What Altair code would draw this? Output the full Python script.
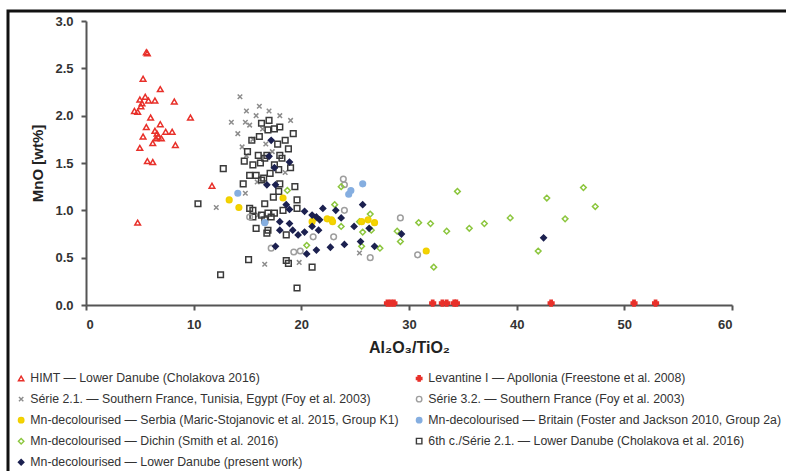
import altair as alt
import pandas as pd

# ---------------- data ----------------
himt_x = [5.7, 5.6, 5.3, 6.9, 5.0, 5.5, 5.8, 6.4, 8.2, 5.2, 5.1, 4.5, 4.8, 9.7, 6.0, 6.9,
          5.6, 6.4, 7.4, 8.0, 6.6, 5.3, 6.7, 7.0, 6.5, 8.3, 6.2, 5.0, 5.7, 6.2, 4.8, 11.7]
himt_y = [2.66, 2.67, 2.39, 2.28, 2.17, 2.20, 2.16, 2.16, 2.15, 2.13, 2.10, 2.05, 2.04, 1.98, 1.98, 1.91,
          1.88, 1.84, 1.83, 1.83, 1.81, 1.78, 1.78, 1.76, 1.76, 1.69, 1.71, 1.66, 1.52, 1.51, 0.87, 1.26]

lev_x = [28.0, 28.3, 28.6, 32.2, 33.1, 33.5, 34.2, 34.4, 43.2, 50.9, 52.9]
lev_y = [0.02, 0.02, 0.02, 0.02, 0.02, 0.02, 0.02, 0.02, 0.02, 0.02, 0.02]

s21_x = [14.3, 16.1, 14.9, 15.8, 18.0, 13.5, 14.8, 15.2, 14.1, 16.4, 14.5, 14.9, 12.1, 14.8, 16.6,
         17.0, 15.5, 19.0, 16.7, 17.3, 18.5, 15.9, 25.4, 19.8, 16.0]
s21_y = [2.20, 2.10, 2.05, 2.00, 2.00, 1.93, 1.93, 1.90, 1.81, 1.86, 1.67, 1.58, 1.03, 1.18, 0.43,
         2.05, 1.75, 1.95, 1.70, 1.62, 1.40, 1.30, 0.55, 0.45, 0.95]

s32_x = [23.9, 24.0, 24.0, 23.0, 21.1, 19.9, 26.4, 29.2, 30.8, 17.2, 19.3, 15.2]
s32_y = [1.33, 1.27, 1.00, 0.72, 0.72, 0.57, 0.50, 0.92, 0.53, 0.60, 0.56, 0.93]

serbia_x = [13.3, 14.2, 18.3, 21.0, 21.3, 22.4, 22.8, 22.9, 25.6, 26.2, 26.8, 31.6]
serbia_y = [1.11, 1.03, 1.13, 0.88, 0.92, 0.91, 0.90, 0.88, 0.88, 0.90, 0.87, 0.57]

britain_x = [14.1, 16.6, 24.4, 24.6, 25.7]
britain_y = [1.18, 0.87, 1.17, 1.21, 1.28]

dichin_x = [18.7, 20.5, 23.1, 23.7, 23.7, 25.4, 25.6, 25.7, 26.4, 26.5, 27.3, 28.9, 29.2,
            30.9, 32.0, 32.3, 33.5, 34.5, 35.6, 37.0, 39.4, 42.0, 42.8, 44.5, 46.2, 47.3]
dichin_y = [1.21, 0.63, 1.06, 1.25, 0.83, 0.88, 0.62, 0.77, 0.96, 0.79, 0.60, 0.78, 0.67,
            0.87, 0.86, 0.40, 0.78, 1.20, 0.81, 0.86, 0.92, 0.57, 1.13, 0.91, 1.24, 1.04]

present_x = [16.8, 17.6, 17.2, 17.0, 17.5, 18.9, 18.6, 18.9, 20.3, 21.0, 21.4, 22.0, 23.2, 23.7,
             25.7, 18.0, 18.0, 18.9, 19.2, 19.7, 20.3, 21.0, 21.6, 21.7, 24.9, 26.3, 25.5, 26.8,
             24.0, 22.7, 21.4, 20.5, 17.6, 29.3, 42.5]
present_y = [1.27, 1.27, 1.74, 1.57, 1.45, 1.51, 1.06, 1.01, 0.99, 0.95, 0.93, 1.02, 1.00, 0.92,
             1.06, 0.88, 0.79, 0.86, 0.79, 0.74, 0.77, 0.83, 0.79, 0.90, 0.83, 0.81, 0.67, 0.62,
             0.64, 0.61, 0.58, 0.54, 0.62, 0.75, 0.71]

sixth_x = [10.4, 12.75, 12.5, 15.1, 19.6, 18.6, 18.8, 21.0, 16.9, 16.3, 15.5, 14.6, 15.2, 15.8,
           16.5, 17.5, 16.8, 16.0, 18.0, 16.6, 16.9, 16.6, 17.5, 18.3, 17.4, 17.9, 18.0, 19.4,
           19.6, 19.6, 18.6, 18.0, 17.5, 16.9, 16.1, 15.4, 18.5, 18.8, 16.6, 16.2, 17.1, 16.3,
           17.9, 19.25, 15.5, 17.2, 16.8, 15.5, 15.8, 15.2, 17.8, 18.2, 19.0, 15.0, 14.7, 17.0, 16.3]
sixth_y = [1.07, 1.44, 0.32, 0.48, 0.18, 0.47, 0.44, 0.40, 0.79, 0.95, 1.00, 1.28, 1.37, 1.37,
           1.34, 1.48, 1.58, 1.58, 1.58, 1.07, 0.97, 0.90, 0.97, 1.00, 1.14, 1.20, 1.28, 1.25,
           1.11, 1.02, 0.74, 1.88, 1.86, 1.85, 1.78, 1.74, 1.74, 1.65, 1.55, 1.50, 1.39, 1.32,
           1.43, 1.81, 1.48, 0.93, 0.76, 0.93, 0.81, 1.02, 1.70, 1.55, 1.45, 1.62, 1.52, 1.95, 1.92]

N_HIMT = "HIMT \u2014 Lower Danube (Cholakova 2016)"
N_LEV = "Levantine I \u2014 Apollonia (Freestone et al. 2008)"
N_S21 = "S\u00e9rie 2.1. \u2014 Southern France, Tunisia, Egypt (Foy et al. 2003)"
N_S32 = "S\u00e9rie 3.2. \u2014 Southern France (Foy et al. 2003)"
N_SER = "Mn-decolourised \u2014 Serbia (Maric-Stojanovic et al. 2015, Group K1)"
N_BRI = "Mn-decolourised \u2014 Britain (Foster and Jackson 2010, Group 2a)"
N_DIC = "Mn-decolourised \u2014 Dichin (Smith et al. 2016)"
N_6TH = "6th c./S\u00e9rie 2.1. \u2014 Lower Danube (Cholakova et al. 2016)"
N_PRE = "Mn-decolourised \u2014 Lower Danube (present work)"

# legend fills column by column: left column first, then right column
names = [N_HIMT, N_S21, N_SER, N_DIC, N_PRE, N_LEV, N_S32, N_BRI, N_6TH]
strokes = ["#e8302a", "#8c8c8c", "#f0cf00", "#8cc63e", "#1c2150", "#e8302a", "#9e9e9e", "#85aee0", "#3a3a3a"]
fills = ["transparent", "transparent", "#f5d400", "transparent", "#1c2150", "#e8302a",
         "transparent", "#85aee0", "transparent"]
shapes = ["triangle-up", "M-0.8,-0.8L0.8,0.8M-0.8,0.8L0.8,-0.8", "circle", "diamond", "diamond",
          "cross", "circle", "circle", "square"]

# drawing order (bottom to top)
series = [
    (N_S21, s21_x, s21_y),
    (N_6TH, sixth_x, sixth_y),
    (N_S32, s32_x, s32_y),
    (N_HIMT, himt_x, himt_y),
    (N_LEV, lev_x, lev_y),
    (N_BRI, britain_x, britain_y),
    (N_DIC, dichin_x, dichin_y),
    (N_SER, serbia_x, serbia_y),
    (N_PRE, present_x, present_y),
]
rows = []
for nm, xs, ys in series:
    for a, b in zip(xs, ys):
        rows.append({"series": nm, "x": a, "y": b})
df = pd.DataFrame(rows)

FONT = "Liberation Sans"

points = alt.Chart(df).mark_point(size=32, strokeWidth=1.5, opacity=1).encode(
    x=alt.X("x:Q", scale=alt.Scale(domain=[0, 60], nice=False),
            axis=alt.Axis(values=[0, 10, 20, 30, 40, 50, 60], title="Al\u2082O\u2083/TiO\u2082",
                          titleFontSize=16, titlePadding=8)),
    y=alt.Y("y:Q", scale=alt.Scale(domain=[0, 3], nice=False),
            axis=alt.Axis(values=[0, 0.5, 1, 1.5, 2, 2.5, 3], format=".1f", title="MnO [wt%]",
                          titleFontSize=15, titlePadding=9)),
    stroke=alt.Stroke("series:N", scale=alt.Scale(domain=names, range=strokes), title=None),
    fill=alt.Fill("series:N", scale=alt.Scale(domain=names, range=fills), title=None),
    shape=alt.Shape("series:N", scale=alt.Scale(domain=names, range=shapes), title=None),
)

frame = alt.Chart(pd.DataFrame({"f": [0]})).mark_rect(
    fill="transparent", stroke="#111111", strokeWidth=3
).encode(x=alt.value(-78), x2=alt.value(720), y=alt.value(-10), y2=alt.value(470))

chart = alt.layer(frame, points).properties(
    width=646, height=284,
    autosize=alt.AutoSizeParams(type="none"),
    padding={"left": 86, "top": 21, "right": 54, "bottom": 166},
).configure_view(stroke=None).configure_axis(
    grid=False, labelFont=FONT, titleFont=FONT, labelFontWeight="bold", titleFontWeight="bold",
    labelFontSize=13, labelColor="#333333", titleColor="#222222",
    domainColor="#555555", domainWidth=2, tickColor="#555555", tickWidth=2, tickSize=5,
    labelPadding=8,
).configure_legend(
    orient="none", legendX=-71, legendY=351, columns=2, direction="vertical",
    labelFont=FONT, labelFontSize=12.3, labelColor="#333333", labelLimit=500,
    symbolSize=30, symbolStrokeWidth=1.4, labelOffset=3, rowPadding=8, columnPadding=14,
)

chart.save("out.html", embed_options={"renderer": "svg", "actions": False})
